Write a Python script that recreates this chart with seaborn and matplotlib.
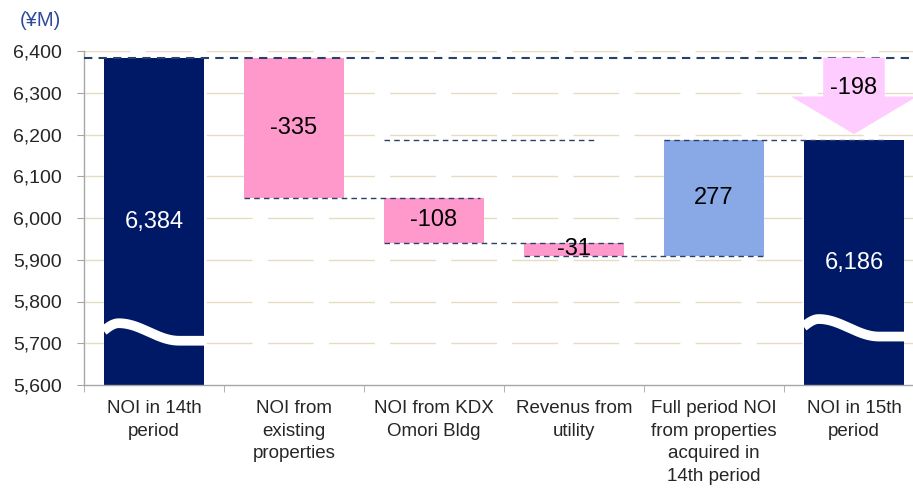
import numpy as np
import pandas as pd
import matplotlib
matplotlib.use("Agg")
import matplotlib.pyplot as plt
import seaborn as sns

# data
categories = ["NOI in 14th\nperiod", "NOI from\nexisting\nproperties", "NOI from KDX\nOmori Bldg",
              "Revenus from\nutility", "Full period NOI\nfrom properties\nacquired in\n14th period",
              "NOI in 15th\nperiod"]
noi_14th = 6384
changes = [-335, -108, -31, 277]
noi_15th = 6186
total_change = -198
y_ticks = [5600, 5700, 5800, 5900, 6000, 6100, 6200, 6300, 6400]
unit_label = "(¥M)"

navy = "#001966"
pink = "#FF99CC"
blue = "#88A8E6"
arrow_col = "#FFCCFF"
line_col = "#2B3F6B"
grid_col = "#E6DCC3"
base = y_ticks[0]

# build the waterfall levels
levels = [noi_14th]
for c in changes:
    levels.append(levels[-1] + c)
lows = [base]
highs = [noi_14th]
for i, c in enumerate(changes):
    lows.append(min(levels[i], levels[i + 1]))
    highs.append(max(levels[i], levels[i + 1]))
lows.append(base)
highs.append(noi_15th)
colors = [navy, pink, pink, pink, blue, navy]

df = pd.DataFrame({"cat": categories, "low": lows, "high": highs})

sns.set_style("white")
plt.rcParams["font.family"] = ["Liberation Sans", "DejaVu Sans"]

fig = plt.figure(figsize=(9.13, 4.88), dpi=100)
ax = fig.add_axes([84 / 913, 103 / 488, 840 / 913, 334 / 488])

w = 0.72
sns.barplot(data=df, x="cat", y="high", hue="cat", palette=colors, legend=False,
            width=w, saturation=1, ax=ax, zorder=2)
for p, lo, hi in zip(ax.patches, lows, highs):
    p.set_y(lo)
    p.set_height(hi - lo)
    p.set_linewidth(0)

ax.set_ylim(y_ticks[0], y_ticks[-1])
ax.set_xlim(-0.5, len(categories) - 0.5)
ax.set_yticks(y_ticks)
ax.set_yticklabels([f"{v:,}" for v in y_ticks])
ax.set_xlabel("")
ax.set_ylabel("")

# gridlines
for v in y_ticks[1:]:
    ax.axhline(v, color=grid_col, lw=1, ls=(0, (33, 11)), zorder=0)

# dashed connectors
half = w / 2
ax.hlines(levels[0], -0.5, 5.5, color=line_col, lw=1.5, ls=(0, (4, 3)), zorder=3)
conn = [
    (levels[1], 1 - half, 2 + half - 0.03),
    (noi_15th, 2 - half, 3 + 0.16),
    (levels[2], 2 - half, 3 + half),
    (levels[3], 3 - half, 4 + half),
    (noi_15th, 4 - half, 5.24),
]
for y, x0, x1 in conn:
    ax.hlines(y, x0, x1, color=line_col, lw=1, ls=(0, (4, 3)), zorder=3)

# wavy break marks on the total bars
t = np.linspace(0, 1, 200)
wave = np.where(t < 0.15, 5730 + 18 * np.sin(t / 0.15 * np.pi / 2),
                np.where(t < 0.75, 5727 + 21 * np.cos((t - 0.15) / 0.6 * np.pi), 5706))
for i, off in [(0, 0), (5, 10)]:
    ln, = ax.plot(i - half + t * w, wave + off, color="white", lw=7,
                  solid_capstyle="butt", zorder=4)
    ln.set_clip_path(ax.patches[i])

# arrow for the overall change
cx = 5
tip = noi_15th + 15
head = tip + 90
ax.fill([cx - 0.22, cx + 0.22, cx + 0.22, cx + 0.45, cx, cx - 0.45, cx - 0.22],
        [noi_14th, noi_14th, head, head, tip, head, head],
        color=arrow_col, lw=0, zorder=3.5)

# value labels
fs = 17
ax.text(0, 5990, f"{noi_14th:,}", color="white", ha="center", va="center", fontsize=fs, zorder=5)
for i, c in enumerate(changes):
    ax.text(i + 1, (lows[i + 1] + highs[i + 1]) / 2, f"{c:,}", color="black",
            ha="center", va="center", fontsize=fs, zorder=5)
ax.text(5, 5892, f"{noi_15th:,}", color="white", ha="center", va="center", fontsize=fs, zorder=5)
ax.text(5, 6311, f"{total_change:,}", color="black", ha="center", va="center", fontsize=fs, zorder=5)

# axes styling
for s in ["top", "right"]:
    ax.spines[s].set_visible(False)
for s in ["left", "bottom"]:
    ax.spines[s].set_color("#A6A6A6")
    ax.spines[s].set_linewidth(1)
ax.tick_params(axis="y", which="major", length=5, color="#A6A6A6", direction="out",
               labelsize=14, pad=11, left=True)
ax.tick_params(axis="x", which="major", length=0, labelsize=13.5, pad=11)
ax.set_xticks(np.arange(-0.5, len(categories), 1), minor=True)
ax.tick_params(axis="x", which="minor", length=5, color="#A6A6A6", direction="out", bottom=True)
for lab in ax.get_xticklabels():
    lab.set_linespacing(1.42)
    lab.set_verticalalignment("top")

fig.text(20 / 913, 1 - 20 / 488, unit_label, color="#2E4A9A", fontsize=14.5, va="center", ha="left")

fig.savefig("out.png", dpi=100)
